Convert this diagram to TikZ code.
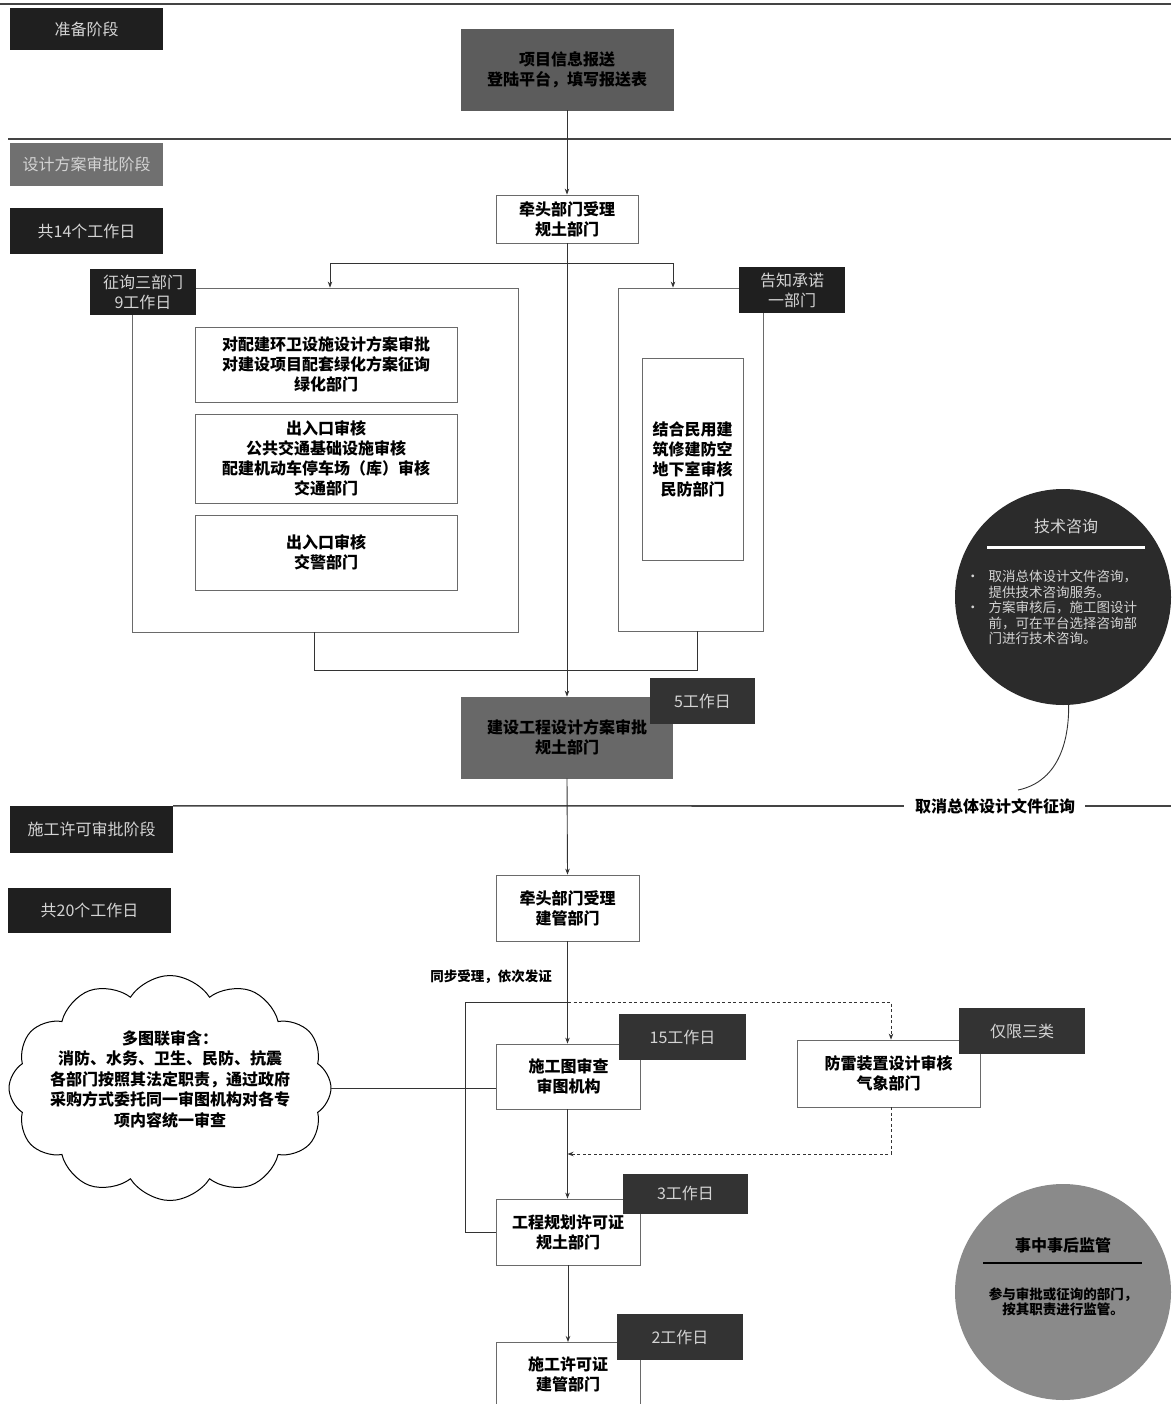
\documentclass[tikz,border=0pt]{standalone}
\usepackage{fontspec}
\setmainfont{Noto Sans CJK SC}
\usetikzlibrary{shapes.symbols,arrows.meta}
\definecolor{boxc}{HTML}{6A6A6A}
\definecolor{labc}{HTML}{1F1F1F}
\definecolor{labt}{HTML}{D4D4D4}
\definecolor{deslab}{HTML}{707070}
\definecolor{infoc}{HTML}{5C5C5C}
\definecolor{apprc}{HTML}{686868}
\definecolor{techc}{HTML}{2B2B2B}
\definecolor{supc}{HTML}{8A8A8A}
\definecolor{linec}{HTML}{333333}
\definecolor{phasec}{HTML}{444444}
\newcommand\bxfont{\fontsize{16}{20}\selectfont\bfseries}
\newcommand\lbfont{\fontsize{16}{20}\selectfont}
\newcommand\smfont{\fontsize{13.5}{14}\selectfont}
\begin{document}
\begin{tikzpicture}[x=1pt,y=-1pt,
  box/.style={draw=boxc, line width=0.8pt, fill=white, inner sep=0pt, align=center, font=\bxfont},
  dlabel/.style={fill=labc, text=labt, inner sep=0pt, align=center, font=\lbfont},
  conn/.style={draw=linec, line width=0.9pt},
  arr/.style={conn, -{Stealth[length=6pt,width=4.5pt]}},
  dconn/.style={conn, dashed, dash pattern=on 3pt off 2.5pt},
  phase/.style={draw=phasec, line width=1.6pt},
  txt/.style={inner sep=0pt, align=center, font=\bxfont}]
\useasboundingbox[fill=white] (0,0) rectangle (1171,1404);

% phase lines
\coordinate (p1a) at (0,4); \coordinate (p1b) at (1171,4);
\coordinate (p2a) at (8,139); \coordinate (p2b) at (1171,139);
\draw[phase] (p1a) -- (p1b);
\draw[phase] (p2a) -- (p2b);

% phase labels
\node[dlabel, minimum width=153, minimum height=42] (prep) at (86.5,29) {准备阶段};
\node[dlabel, fill=deslab, minimum width=153, minimum height=43] (design) at (86.5,164.5) {设计方案审批阶段};
\node[dlabel, minimum width=153, minimum height=46] (days14) at (86.5,231) {共14个工作日};
\node[dlabel, minimum width=163, minimum height=47] (build) at (91.5,829.5) {施工许可审批阶段};
\node[dlabel, minimum width=163, minimum height=45] (days20) at (89.5,910.5) {共20个工作日};

% phase 1
\node[box, fill=infoc, draw=infoc, minimum width=212, minimum height=81] (info) at (567,69.5) {项目信息报送\\登陆平台，填写报送表};

% phase 2
\node[box, minimum width=142, minimum height=48] (lead1) at (567,219) {牵头部门受理\\规土部门};
\node[box, minimum width=386, minimum height=344] (leftg) at (325,460) {};
\node[box, minimum width=145, minimum height=343] (rightg) at (690.5,459.5) {};
\node[box, minimum width=262, minimum height=75] (ba) at (326,364.5) {对配建环卫设施设计方案审批\\对建设项目配套绿化方案征询\\绿化部门};
\node[box, minimum width=262, minimum height=89] (bb) at (326,458.5) {出入口审核\\公共交通基础设施审核\\配建机动车停车场（库）审核\\交通部门};
\node[box, minimum width=262, minimum height=75] (bc) at (326,552.5) {出入口审核\\交警部门};
\node[box, minimum width=101, minimum height=202] (bd) at (692.5,459) {结合民用建\\筑修建防空\\地下室审核\\民防部门};
\node[dlabel, minimum width=106, minimum height=46] (zx) at (143,292) {征询三部门\\9工作日};
\node[dlabel, minimum width=106, minimum height=46] (gz) at (792,290) {告知承诺\\一部门};
\node[box, fill=apprc, draw=apprc, minimum width=211, minimum height=81] (appr) at (567,737.5) {建设工程设计方案审批\\规土部门};
\node[dlabel, fill=linec, minimum width=105, minimum height=46] (d5) at (702.5,701) {5工作日};

% split and merge
\coordinate (spL) at (330,263); \coordinate (spR) at (673,263);
\coordinate (mL) at (314,670); \coordinate (mR) at (697,670);
\draw[arr] (info.south) -- (lead1.north);
\draw[arr] (lead1.south) -- (appr.north);
\draw[arr] (spR) -- (spL) -- (spL |- leftg.north);
\draw[arr] (spL) -- (spR) -- (spR |- rightg.north);
\draw[conn] (leftg.south -| mL) -- (mL) -- (mR) -- (rightg.south -| mR);

% tech circle
\node[circle, fill=techc, minimum size=216, inner sep=0pt] (tech) at (1063,597) {};
\node[inner sep=0pt, text=labt, font=\lbfont] (techt) at (1066,526) {技术咨询};
\coordinate (trA) at (987,547); \coordinate (trB) at (1145,547);
\draw[white, line width=3pt] (trA) -- (trB);
\node[inner sep=0pt, anchor=north west, text=labt, font=\smfont] (techb) at (966,570)
 {\begin{tabular}{@{}l@{\hspace{9pt}}l@{}}•&取消总体设计文件咨询，\\&提供技术咨询服务。\\•&方案审核后，施工图设计\\&前，可在平台选择咨询部\\&门进行技术咨询。\end{tabular}};

% phase 3 separator with note
\node[txt] (cancel) at (995,806) {取消总体设计文件征询};
\coordinate (p3b) at (1171,806);
\draw[phase] (build.north east) -- ([xshift=-11pt]cancel.west);
\draw[phase] ([xshift=10pt]cancel.east) -- (p3b);
\coordinate (cvEnd) at (1018,790);
\draw[conn] (tech.-87) .. controls (1069,752) and (1052,783) .. (cvEnd);

% phase 3
\node[box, minimum width=143, minimum height=66] (lead2) at (567.5,908) {牵头部门受理\\建管部门};
\node[box, minimum width=144, minimum height=65] (rev) at (568.5,1076.5) {施工图审查\\审图机构};
\node[box, minimum width=183, minimum height=67] (ltn) at (888.5,1073.5) {防雷装置设计审核\\气象部门};
\node[box, minimum width=144, minimum height=66] (plan) at (568,1232) {工程规划许可证\\规土部门};
\node[box, minimum width=144, minimum height=130, anchor=north] (permit) at (568,1342) {};
\node[txt] (permitt) at (568,1374) {施工许可证\\建管部门};
\node[dlabel, fill=linec, minimum width=127, minimum height=46] (d15) at (682.5,1037) {15工作日};
\node[dlabel, fill=linec, minimum width=126, minimum height=46] (three) at (1022,1031) {仅限三类};
\node[dlabel, fill=linec, minimum width=125, minimum height=40] (d3) at (685.5,1193.5) {3工作日};
\node[dlabel, fill=linec, minimum width=126, minimum height=46] (d2) at (680,1337) {2工作日};

\node[inner sep=0pt, font=\fontsize{13.5}{16}\selectfont\bfseries] (sync) at (491,977) {同步受理，依次发证};

\coordinate (br) at (568,1002); \coordinate (brL) at (465,1002); \coordinate (brR) at (891,1002);
\coordinate (ret) at (891,1154);
\draw[arr] (appr.south) -- (lead2.north);
\draw[arr] (lead2.south) -- (rev.north -| lead2.south);
\draw[conn] (br) -- (brL) -- (brL |- plan.west) -- (plan.west);
\draw[dconn, -{Stealth[length=6pt,width=4.5pt]}] (br) -- (brR) -- (brR |- ltn.north);
\draw[dconn, -{Stealth[length=6pt,width=4.5pt]}] (ltn.south -| ret) -- (ret) -- (ret -| lead2.south);
\draw[arr] (rev.south -| lead2.south) -- (plan.north -| lead2.south);
\draw[arr] (plan.south) -- (permit.north);

% cloud
\node[cloud, draw=black, line width=1pt, fill=white, cloud puffs=12, cloud puff arc=115, aspect=1.44, minimum width=322, minimum height=225, inner sep=0pt] (cloud) at (170,1088) {};
\node[txt, font=\fontsize{16}{20.5}\selectfont\bfseries] (cloudt) at (170,1079) {多图联审含：\\消防、水务、卫生、民防、抗震\\各部门按照其法定职责，通过政府\\采购方式委托同一审图机构对各专\\项内容统一审查};
\draw[conn] (cloud.east) -- (cloud.east -| rev.west);

% supervision circle
\node[circle, fill=supc, minimum size=216, inner sep=0pt] (sup) at (1063,1292) {};
\node[txt] (supt) at (1063,1245) {事中事后监管};
\coordinate (srA) at (983,1263); \coordinate (srB) at (1142,1263);
\draw[black, line width=2.5pt] (srA) -- (srB);
\node[txt, font=\fontsize{13.5}{14.5}\selectfont\bfseries] (supb) at (1063,1302) {参与审批或征询的部门，\\按其职责进行监管。};
\end{tikzpicture}
\end{document}
